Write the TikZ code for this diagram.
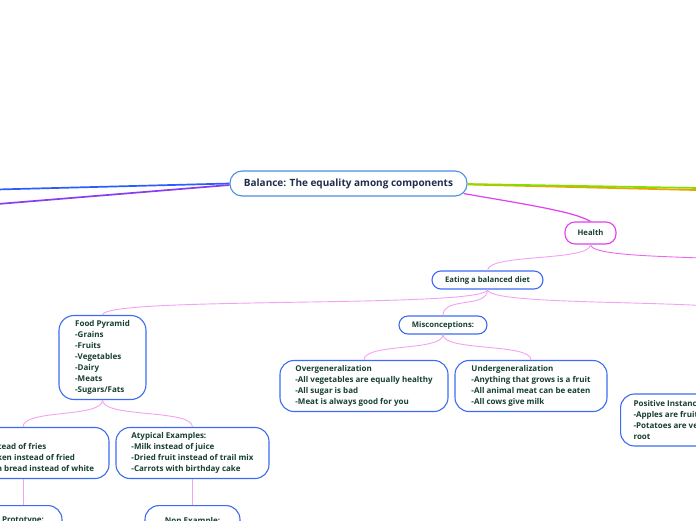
\documentclass[tikz,border=0pt]{standalone}
\usepackage{fontspec}
\setmainfont{Open Sans}
\usetikzlibrary{calc}
\definecolor{boxblue}{HTML}{3D6CF2}
\definecolor{rootblue}{HTML}{4A90E2}
\definecolor{roottxt}{HTML}{1F2D4D}
\definecolor{txtgreen}{HTML}{173F2F}
\definecolor{magent}{HTML}{E040EE}
\definecolor{pinkl}{HTML}{F3A2F3}
\definecolor{pinkm}{HTML}{EC66EE}
\definecolor{lineblue}{HTML}{2A5CFF}
\definecolor{linepurple}{HTML}{8A3CF0}
\definecolor{linegreen}{HTML}{80E000}
\definecolor{lineorange}{HTML}{F0A000}
\begin{document}
\begin{tikzpicture}[x=1pt,y=-1pt,
  box/.style={draw=boxblue, line width=1.1pt, rounded corners=14pt, fill=white,
    text=txtgreen, font=\bfseries\fontsize{8}{11}\selectfont, align=left,
    inner xsep=6pt, inner ysep=5pt},
  pill/.style={box, rounded corners=9pt, font=\bfseries\fontsize{7.7}{9}\selectfont, align=center},
  rootbox/.style={draw=rootblue, line width=1.1pt, rounded corners=12pt, fill=white,
    text=roottxt, font=\bfseries\fontsize{10}{12}\selectfont,
    minimum width=237pt, minimum height=25pt},
  conn/.style={draw=pinkl, line width=0.9pt},
  connm/.style={draw=pinkm, line width=0.9pt},
  mainline/.style={line width=1.7pt},
]
\useasboundingbox (0,0) rectangle (696,520);
\clip (0,0) rectangle (696,520);
\fill[white] (0,0) rectangle (696,520);

% nodes
\node[rootbox] (root) at (348.5,183.5) {Balance: The equality among components};
\node[pill, draw=magent, minimum width=51pt, minimum height=22pt, rounded corners=10pt] (health) at (590.5,233) {Health};
\node[pill, minimum width=111pt, minimum height=18pt] (eat) at (487.5,280) {Eating a balanced diet};
\node[pill, minimum width=88pt, minimum height=18pt] (mis) at (443,325) {Misconceptions:};
\node[box, minimum width=87pt, minimum height=83pt, rounded corners=15pt] (fp) at (102.5,357.5)
  {Food Pyramid\\-Grains\\-Fruits\\-Vegetables\\-Dairy\\-Meats\\-Sugars/Fats};
\node[box, minimum width=168pt, minimum height=50pt] (over) at (364,386)
  {Overgeneralization\\-All vegetables are equally healthy\\-All sugar is bad\\-Meat is always good for you};
\node[box, minimum width=152pt, minimum height=50pt] (under) at (531,386)
  {Undergeneralization\\-Anything that grows is a fruit\\-All animal meat can be eaten\\-All cows give milk};
\node[box, minimum width=200pt, minimum height=52pt, anchor=west, inner xsep=13pt] (pos) at (620,420)
  {Positive Instances:\\-Apples are fruits\\-Potatoes are vegetables that grow from the\\root};
\node[box, minimum width=172pt, minimum height=50pt] (typ) at (23,453)
  {Examples:\\-Veggies instead of fries\\-Baked chicken instead of fried\\-Whole grain bread instead of white};
\node[box, minimum width=153pt, minimum height=50pt] (atyp) at (192.5,453)
  {Atypical Examples:\\-Milk instead of juice\\-Dried fruit instead of trail mix\\-Carrots with birthday cake};
\node[box, minimum width=78pt, minimum height=40pt, anchor=north] (proto) at (23,505) {Prototype:\\\mbox{}};
\node[box, minimum width=95pt, minimum height=40pt, anchor=north] (non) at (192.5,505) {Non Example:\\\mbox{}};

% off-canvas ends
\coordinate (lb) at (-100,192);
\coordinate (lp) at (-100,212);
\coordinate (rg) at (900,191.5);
\coordinate (ro) at (900,195);
\coordinate (hr) at (800,271);
\coordinate (er) at (760,316);

% main branches
\draw[mainline, draw=lineblue] (root.west) -- (lb);
\draw[mainline, draw=linepurple] ($(root.west)+(0,1.5)$) -- (lp);
\draw[mainline, draw=lineorange] ($(root.east)+(0,1)$) -- (ro);
\draw[mainline, draw=linegreen] ($(root.east)+(0,0.5)$) -- (rg);
\draw[line width=1.2pt, draw=magent] ($(root.south east)+(-4,-3)$) .. controls (530,205) and (575,212) .. (health.north);

% sub connectors
\draw[connm] (health.south) .. controls +(0,19) and +(0,-19) .. (hr);
\draw[conn] (health.south) .. controls +(0,17) and +(0,-17) .. (eat.north);
\draw[conn] (eat.south) .. controls +(0,19) and +(0,-19) .. (fp.north);
\draw[conn] (eat.south) .. controls +(0,19) and +(0,-19) .. (mis.north);
\draw[conn] (eat.south) .. controls +(0,19) and +(0,-19) .. (er);
\draw[conn] (mis.south) .. controls +(0,17) and +(0,-17) .. (over.north);
\draw[conn] (mis.south) .. controls +(0,17) and +(0,-17) .. (under.north);
\draw[conn] (fp.south) .. controls +(0,18) and +(0,-18) .. (typ.north);
\draw[conn] (fp.south) .. controls +(0,18) and +(0,-18) .. (atyp.north);
\draw[conn] (typ.south) -- (proto.north);
\draw[conn] (atyp.south) -- (non.north);
\end{tikzpicture}
\end{document}
